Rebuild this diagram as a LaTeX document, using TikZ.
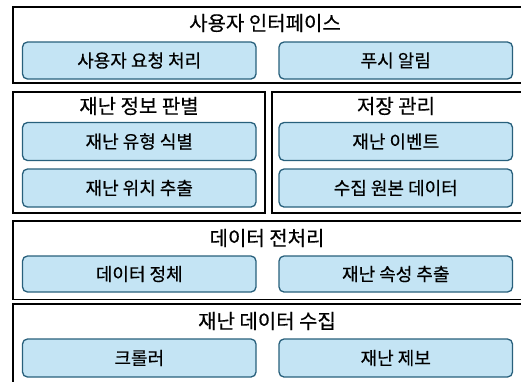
\documentclass[tikz,border=0pt]{standalone}
\usepackage{fontspec}
\setmainfont{Noto Sans CJK KR}[FakeBold=0.4]
\begin{document}
\begin{tikzpicture}[x=1pt,y=-1pt,
  outerbox/.style={draw=black, line width=1.5pt, fill=white},
  innerbox/.style={draw=innerline, line width=1.3pt, fill=innerfill, rounded corners=5pt},
  titletext/.style={font=\fontsize{20}{22}\selectfont, text=black},
  innertext/.style={font=\fontsize{18}{20}\selectfont, text=black}]
\definecolor{innerfill}{RGB}{196,228,244}
\definecolor{innerline}{RGB}{40,96,124}
\useasboundingbox (0,0) rectangle (521,381);
\clip (0,0) rectangle (521,381);
% layer 1
\draw[outerbox] (13,7) rectangle (540,83);
\node[titletext] (t1) at (265,23) {사용자 인터페이스};
\draw[innerbox] (22.5,42) rectangle (256,79);
\node[innertext] (a1) at (139.25,60.5) {사용자 요청 처리};
\draw[innerbox] (279,42) rectangle (512.5,79);
\node[innertext] (a2) at (395.75,60.5) {푸시 알림};
% layer 2 left
\draw[outerbox] (13,92) rectangle (265,213);
\node[titletext] (t2) at (139,106) {재난 정보 판별};
\draw[innerbox] (22.5,122.5) rectangle (256,160.5);
\node[innertext] (b1) at (139.25,141.5) {재난 유형 식별};
\draw[innerbox] (22.5,169) rectangle (256,207);
\node[innertext] (b2) at (139.25,188) {재난 위치 추출};
% layer 2 right
\draw[outerbox] (272,92) rectangle (540,213);
\node[titletext] (t3) at (396,106) {저장 관리};
\draw[innerbox] (279,122.5) rectangle (512.5,160.5);
\node[innertext] (c1) at (395.75,141.5) {재난 이벤트};
\draw[innerbox] (279,169) rectangle (512.5,207);
\node[innertext] (c2) at (395.75,188) {수집 원본 데이터};
% layer 3
\draw[outerbox] (13,221) rectangle (540,299.5);
\node[titletext] (t4) at (267,238) {데이터 전처리};
\draw[innerbox] (22.5,256) rectangle (256,292);
\node[innertext] (d1) at (139.25,274) {데이터 정체};
\draw[innerbox] (279,256) rectangle (512.5,292);
\node[innertext] (d2) at (395.75,274) {재난 속성 추출};
% layer 4
\draw[outerbox] (13,304) rectangle (540,400);
\node[titletext] (t5) at (267,321) {재난 데이터 수집};
\draw[innerbox] (22.5,339) rectangle (256,377);
\node[innertext] (e1) at (139.25,358) {크롤러};
\draw[innerbox] (279,339) rectangle (512.5,377);
\node[innertext] (e2) at (395.75,358) {재난 제보};
\end{tikzpicture}
\end{document}
